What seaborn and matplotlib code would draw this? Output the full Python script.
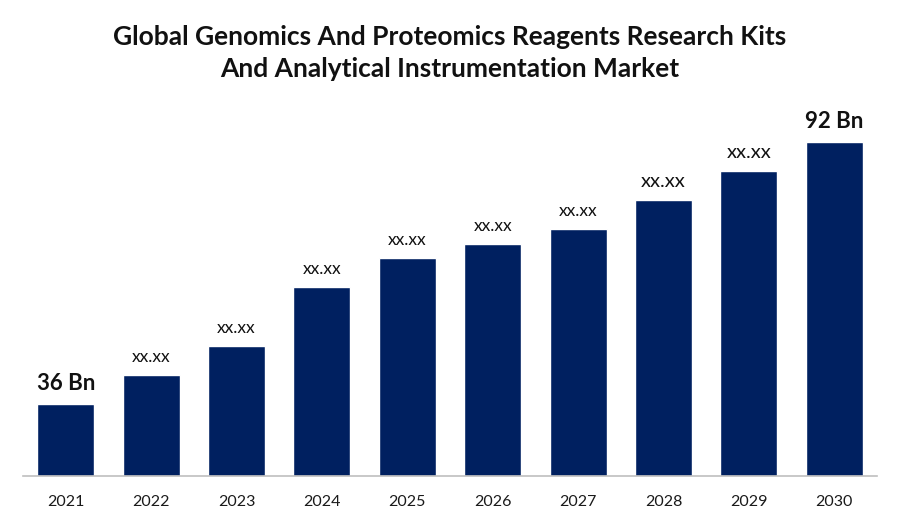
import matplotlib
matplotlib.use("Agg")
import matplotlib.pyplot as plt
import seaborn as sns
import pandas as pd

years = ["2021", "2022", "2023", "2024", "2025", "2026", "2027", "2028", "2029", "2030"]
values = [36, 50.5, 65, 94.5, 109, 116, 123.5, 138, 152.5, 167]
labels = ["36 Bn", "xx.xx", "xx.xx", "xx.xx", "xx.xx", "xx.xx", "xx.xx", "xx.xx", "xx.xx", "92 Bn"]
title = "Global Genomics And Proteomics Reagents Research Kits\nAnd Analytical Instrumentation Market"

sns.set_style("white")
plt.rcParams["font.family"] = ["Lato", "DejaVu Sans"]

df = pd.DataFrame({"year": years, "value": values})
fig = plt.figure(figsize=(9, 5.25), dpi=100)
ax = fig.add_axes([23/900, 49/525, 854/900, 376/525])
sns.barplot(data=df, x="year", y="value", color="#002060", saturation=1, width=0.667, ax=ax)
ax.set_xlim(-0.5, 9.5)
ax.set_ylim(0, 188)
ax.set_xlabel("")
ax.set_ylabel("")
ax.set_yticks([])
for s in ["top", "right", "left"]:
    ax.spines[s].set_visible(False)
ax.spines["bottom"].set_color("#bfbfbf")
ax.spines["bottom"].set_linewidth(1.2)
ax.tick_params(axis="x", length=0, pad=14, labelsize=11.5, labelcolor="#1a1a1a")

for i, (v, lab) in enumerate(zip(values, labels)):
    if "Bn" in lab:
        fs, fw, off = 16, "bold", 5
    elif i >= 7:
        fs, fw, off = 14.5, "normal", 5
    else:
        fs, fw, off = 12.5, "normal", 5
    ax.text(i, v + off, lab, ha="center", va="bottom", fontsize=fs, fontweight=fw, color="#111111")

fig.text(0.5, 0.845, title, ha="center", va="bottom", fontsize=19, fontweight="bold",
         color="#111111", linespacing=1.4)
fig.savefig("out.png", dpi=100)
